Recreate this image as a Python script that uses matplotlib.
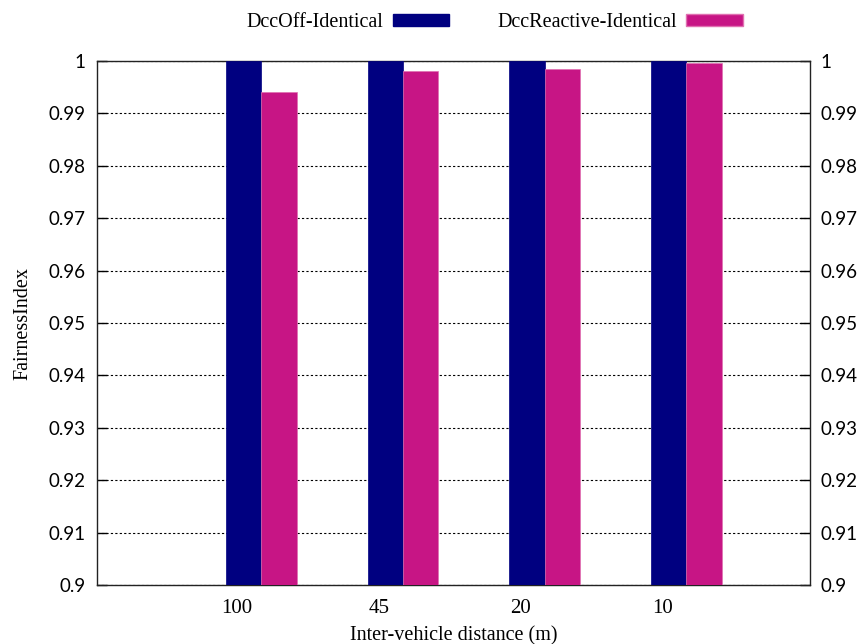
import numpy as np
import matplotlib
matplotlib.use("Agg")
import matplotlib.pyplot as plt
from matplotlib.patches import Patch

distances = ["100", "45", "20", "10"]
dcc_off = [1.0, 1.0, 1.0, 1.0]
dcc_reactive = [0.9940, 0.9981, 0.9984, 0.9996]
yticks = [0.9, 0.91, 0.92, 0.93, 0.94, 0.95, 0.96, 0.97, 0.98, 0.99, 1.0]
ytick_labels = ["0.9", "0.91", "0.92", "0.93", "0.94", "0.95", "0.96", "0.97", "0.98", "0.99", "1"]

serif = "Liberation Serif"
tickfont = "Lato"

fig = plt.figure(figsize=(8.65, 6.44), dpi=100)
ax = fig.add_axes([0.112, 0.0916, 0.824, 0.8136])

x = np.arange(len(distances))
w = 0.25
ax.bar(x - 0.08, dcc_off, w, bottom=0, align="edge", color="#000080",
       edgecolor="#000080", linewidth=0.5, zorder=3)
ax.bar(x + 0.17, dcc_reactive, w, bottom=0, align="edge", color="#c71585",
       edgecolor="#e070b0", linewidth=0.5, zorder=3)

ax.set_xlim(-0.99, 4.04)
ax.set_ylim(0.9, 1.0)
ax.set_yticks(yticks)
ax.set_yticklabels(ytick_labels, fontsize=13.5, fontfamily=tickfont)
ax.set_xticks(x)
ax.set_xticklabels(distances, fontsize=15, fontfamily=serif)
ax.tick_params(axis="x", length=0, pad=10)
ax.tick_params(axis="y", direction="in", length=7, width=1, pad=8,
               right=True, labelright=True)
ax.grid(axis="y", color="black", linestyle=(0, (2, 2)), linewidth=0.8, zorder=1)
for s in ax.spines.values():
    s.set_linewidth(1.0)
    s.set_color("#222222")

ax.set_xlabel("Inter-vehicle distance (m)", fontsize=14.5, fontfamily=serif, labelpad=6)
ax.set_ylabel("FairnessIndex", fontsize=14.5, fontfamily=serif, labelpad=12)

handles = [Patch(facecolor="#000080", edgecolor="#000080"),
           Patch(facecolor="#c71585", edgecolor="#e070b0")]
fig.legend(handles, ["DccOff-Identical", "DccReactive-Identical"],
           loc="center", bbox_to_anchor=(0.572, 0.965), ncol=2, frameon=False,
           markerfirst=False, handlelength=2.8, handleheight=0.55,
           handletextpad=0.45, columnspacing=2.4,
           prop={"family": serif, "size": 14.5})

fig.savefig("out.png", dpi=100)
